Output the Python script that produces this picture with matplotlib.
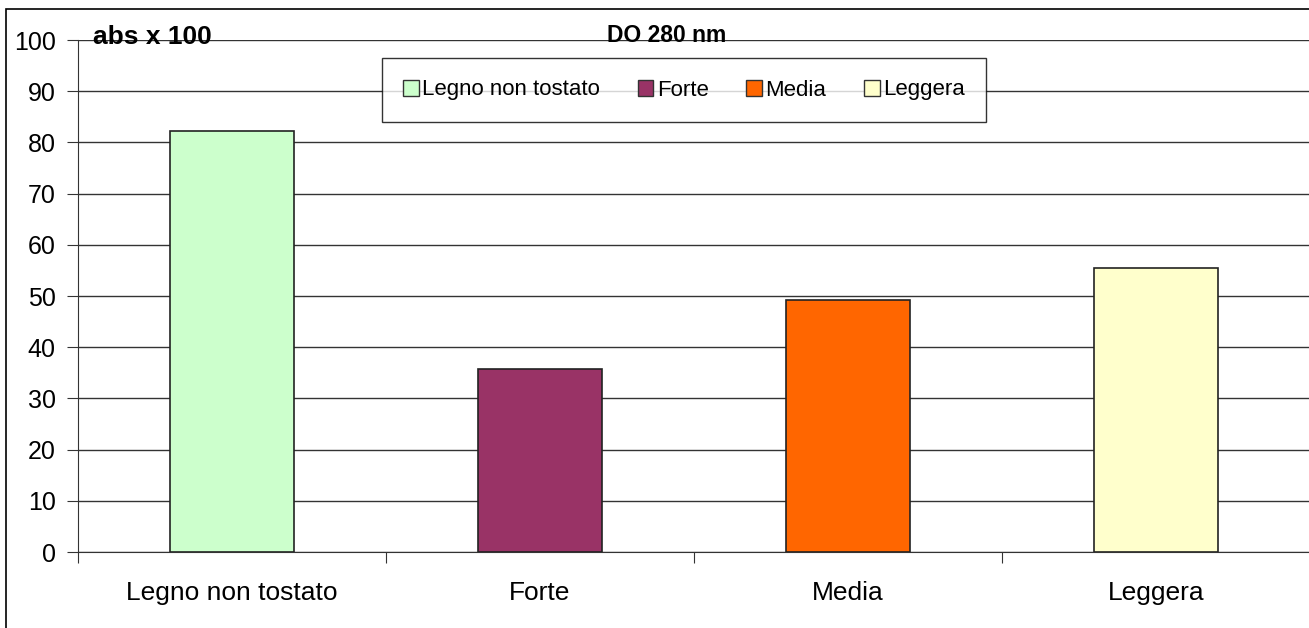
import matplotlib
matplotlib.use("Agg")
import matplotlib.pyplot as plt
from matplotlib.patches import Rectangle, Patch

# absorbance at 280 nm (x 100) per toasting level
categories = ['Legno non tostato', 'Forte', 'Media', 'Leggera']
values = [82.2, 35.7, 49.3, 55.4]
colors = ['#CCFFCC', '#993366', '#FF6600', '#FFFFCC']
y_ticks = list(range(0, 101, 10))

plt.rcParams['font.family'] = ['Liberation Sans', 'DejaVu Sans']

fig = plt.figure(figsize=(13.09, 6.28), dpi=100)
fig.patch.set_facecolor('white')

# outer chart border
fig.patches.append(Rectangle((6 / 1309, -0.1), 1.2, 1 - 9 / 628 + 0.1,
                             transform=fig.transFigure, fill=False,
                             edgecolor='black', linewidth=1.2, zorder=0))

ax = fig.add_axes([78 / 1309, 1 - 552 / 628, 1232 / 1309, 512 / 628])
ax.set_xlim(0, len(categories))
ax.set_ylim(0, 100)

for i, (v, c) in enumerate(zip(values, colors)):
    ax.bar(i + 0.5, v, width=0.4, color=c, edgecolor='#222222',
           linewidth=1.2, zorder=3, label=categories[i])

ax.set_yticks(y_ticks)
ax.set_yticklabels([str(t) for t in y_ticks], fontsize=18)
ax.yaxis.grid(True, color='#333333', linewidth=1.0)
ax.set_axisbelow(True)

# category ticks sit between groups, labels centred under bars
ax.set_xticks(range(len(categories) + 1))
ax.set_xticklabels([])
ax.set_xticks([i + 0.5 for i in range(len(categories))], minor=True)
ax.set_xticklabels(categories, minor=True, fontsize=19)
ax.tick_params(axis='x', which='minor', length=0, pad=21)
ax.tick_params(axis='x', which='major', length=8, direction='out', color='#333333')
ax.tick_params(axis='y', length=8, direction='out', color='#333333', pad=8)

for s in ['top', 'right']:
    ax.spines[s].set_visible(False)
ax.spines['left'].set_color('#333333')
ax.spines['bottom'].set_color('#333333')

handles = [Patch(facecolor=c, edgecolor='#333333', linewidth=1.0) for c in colors]
leg = fig.legend(handles, categories, loc='center',
                 bbox_to_anchor=(684 / 1309, 1 - 90 / 628), ncol=4,
                 fontsize=16, frameon=True, fancybox=False,
                 edgecolor='black', handlelength=0.7, handleheight=0.7,
                 handletextpad=0.15, columnspacing=1.7, borderpad=0.95)
leg.get_frame().set_linewidth(1.0)

fig.text(152 / 1309, 1 - 37 / 628, 'abs x 100', fontsize=19, fontweight='bold',
         ha='center', va='center')
fig.text(667 / 1309, 1 - 35 / 628, 'DO 280 nm', fontsize=16.5, fontweight='bold',
         ha='center', va='center')

fig.savefig('out.png', dpi=100)
